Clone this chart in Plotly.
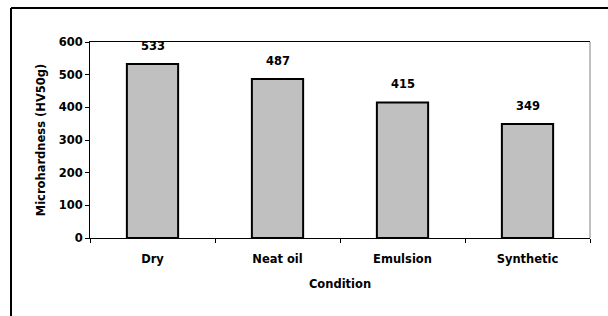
import plotly.graph_objects as go

categories = ["Dry", "Neat oil", "Emulsion", "Synthetic"]
hardness = [533, 487, 415, 349]
y_ticks = [0, 100, 200, 300, 400, 500, 600]

FONT = "DejaVu Sans"
FS = 11.5

fig = go.Figure()
fig.add_trace(go.Bar(
    x=categories, y=hardness, width=0.41,
    marker=dict(color="#c0c0c0", line=dict(color="black", width=2)),
    hoverinfo="skip",
))

for c, v in zip(categories, hardness):
    fig.add_annotation(x=c, y=v, text="<b>%d</b>" % v, showarrow=False,
                       yanchor="bottom", yshift=9,
                       font=dict(family=FONT, size=FS, color="black"))

fig.update_layout(
    width=608, height=316,
    margin=dict(l=90, r=18, t=42, b=78),
    paper_bgcolor="white", plot_bgcolor="white",
    showlegend=False,
    font=dict(family=FONT, size=FS, color="black"),
    xaxis=dict(
        showline=True, linecolor="black", linewidth=1, mirror=True,
        ticks="outside", tickson="boundaries", ticklen=4, tickcolor="black",
        ticklabelstandoff=10,
        tickfont=dict(family=FONT, size=FS, color="black", weight="bold"),
        title=dict(text="<b>Condition</b>", font=dict(family=FONT, size=FS), standoff=15),
        showgrid=False, zeroline=False,
    ),
    yaxis=dict(
        range=[0, 600], tickvals=y_ticks,
        showline=True, linecolor="black", linewidth=1,
        ticks="outside", ticklen=4, tickcolor="black",
        tickfont=dict(family=FONT, size=FS, color="black", weight="bold"),
        title=dict(text="<b>Microhardness (HV50g)</b>", font=dict(family=FONT, size=FS), standoff=10),
        showgrid=False, zeroline=False,
    ),
    shapes=[
        dict(type="line", xref="paper", yref="paper", x0=1, x1=1, y0=0, y1=1,
             line=dict(color="#808080", width=1)),
        dict(type="line", xref="paper", yref="paper",
             x0=-79/500, x1=1.5, y0=1 + 34/196, y1=1 + 34/196,
             line=dict(color="black", width=2)),
        dict(type="line", xref="paper", yref="paper",
             x0=-79/500, x1=-79/500, y0=1 + 34/196, y1=-1,
             line=dict(color="black", width=2)),
    ],
)

fig.write_html("out.html", config={"displayModeBar": False},
               post_script="document.body.style.margin='0';document.body.style.overflow='hidden';")
